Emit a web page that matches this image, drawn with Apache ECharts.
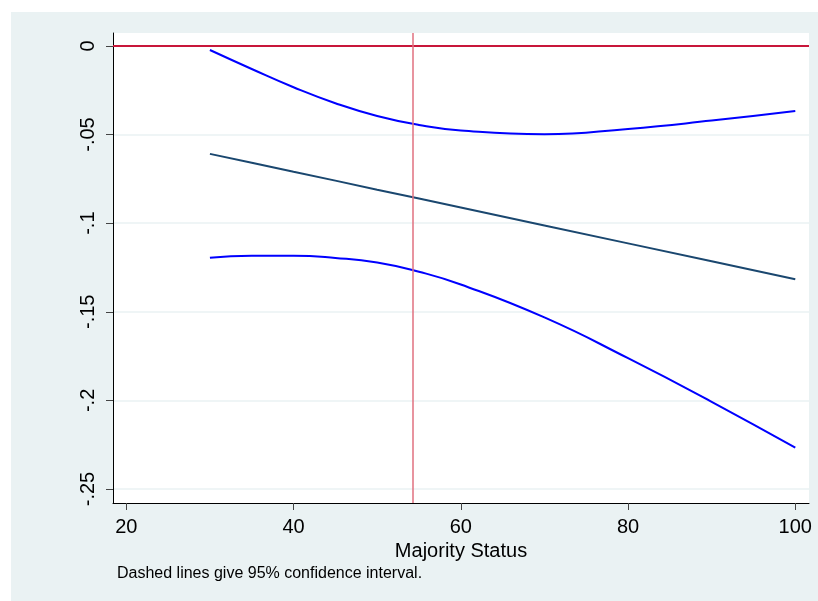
<!DOCTYPE html>
<html>
<head>
<meta charset="utf-8">
<script src="https://cdn.jsdelivr.net/npm/echarts@6/dist/echarts.min.js"></script>
<style>
  html, body { margin: 0; padding: 0; background: #fff; }
  #main { width: 818px; height: 601px; }
</style>
</head>
<body>
<div id="main"></div>
<script>
// x positions (majority status)
var xVals   = [30, 35, 40, 45, 50, 55, 60, 70, 80, 90, 100];
// fitted marginal effect
var fitVals = [-0.0609, -0.0659, -0.0710, -0.0760, -0.0811, -0.0861, -0.0912, -0.1013, -0.1114, -0.1215, -0.1316];
// upper / lower 95% bounds
var upVals  = [-0.0023, -0.0130, -0.0233, -0.0323, -0.0395, -0.0446, -0.0477, -0.0498, -0.0468, -0.0421, -0.0367];
var loVals  = [-0.1195, -0.1184, -0.1184, -0.1196, -0.1222, -0.1274, -0.1346, -0.1532, -0.1762, -0.2008, -0.2267];
var xTicks  = [20, 40, 60, 80, 100];
var yTicks  = [0, -0.05, -0.1, -0.15, -0.2, -0.25];
var yLabels = ['0', '-.05', '-.1', '-.15', '-.2', '-.25'];
var meanX   = 54.26;

function pairs(ys) {
  var out = [];
  for (var i = 0; i < xVals.length; i++) out.push([xVals[i], ys[i]]);
  return out;
}

var myChart = echarts.init(document.getElementById('main'));

var option = {
  animation: false,
  backgroundColor: '#fff',
  textStyle: { fontFamily: 'Liberation Sans, Arial, sans-serif' },
  graphic: [
    { type: 'rect', z: -10, shape: { x: 11, y: 12, width: 807, height: 589 }, style: { fill: '#EAF2F3' } },
    { type: 'rect', z: -9, shape: { x: 113, y: 33, width: 696, height: 470 }, style: { fill: '#fff' } },
    { type: 'text', left: 117, top: 566, style: { text: 'Dashed lines give 95% confidence interval.', font: '16px "Liberation Sans", Arial, sans-serif', fill: '#000' } }
  ],
  grid: { left: 113, top: 33, right: 9, bottom: 98, containLabel: false },
  xAxis: {
    type: 'value',
    min: 18.41,
    max: 101.64,
    name: 'Majority Status',
    nameLocation: 'middle',
    nameGap: 34,
    nameTextStyle: { fontSize: 20, color: '#000' },
    axisLine: { show: true, onZero: false, lineStyle: { color: '#000', width: 1 } },
    axisTick: { show: true, length: 7, lineStyle: { color: '#444' }, customValues: xTicks },
    axisLabel: { fontSize: 20, color: '#000', margin: 14, customValues: xTicks, showMinLabel: true, showMaxLabel: true },
    splitLine: { show: false }
  },
  yAxis: {
    type: 'value',
    min: -0.2579,
    max: 0.0073,
    axisLine: { show: true, onZero: false, lineStyle: { color: '#000', width: 1 } },
    axisTick: { show: true, length: 7, lineStyle: { color: '#444' }, customValues: yTicks },
    axisLabel: {
      fontSize: 20, color: '#000', rotate: 90, margin: 15,
      customValues: yTicks,
      formatter: function (v) {
        for (var i = 0; i < yTicks.length; i++) {
          if (Math.abs(v - yTicks[i]) < 1e-6) return yLabels[i];
        }
        return '';
      }
    },
    splitLine: { show: true, lineStyle: { color: '#EAF2F3', width: 1.5 } }
  },
  series: [
    {
      name: 'upper', type: 'line', data: pairs(upVals), smooth: true, symbol: 'none',
      lineStyle: { color: '#0000FF', width: 2 }, z: 3
    },
    {
      name: 'fit', type: 'line', data: pairs(fitVals), symbol: 'none',
      lineStyle: { color: '#1A476F', width: 2 }, z: 3
    },
    {
      name: 'lower', type: 'line', data: pairs(loVals), smooth: true, symbol: 'none',
      lineStyle: { color: '#0000FF', width: 2 }, z: 3,
      markLine: {
        silent: true, symbol: 'none', label: { show: false },
        data: [
          { yAxis: 0, lineStyle: { color: '#C8173A', width: 2, type: 'solid' } },
          { xAxis: meanX, lineStyle: { color: '#E0707F', width: 1.5, type: 'solid' } }
        ]
      }
    }
  ]
};

myChart.setOption(option);
</script>
</body>
</html>
